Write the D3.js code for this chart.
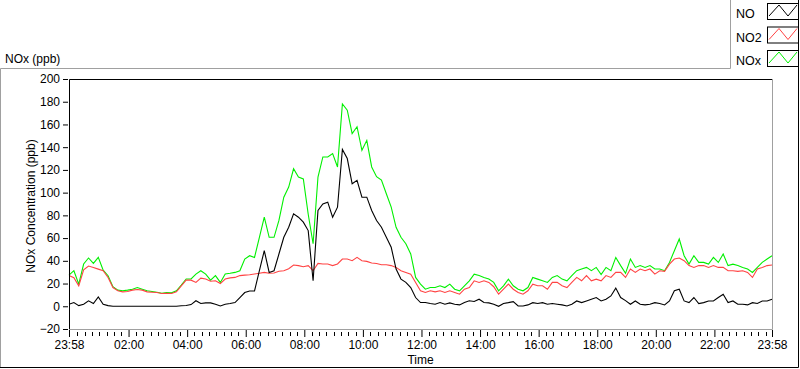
<!DOCTYPE html>
<html>
<head>
<meta charset="utf-8">
<script src="https://cdn.jsdelivr.net/npm/d3@7"></script>
<style>
  body { margin: 0; background: #fff; }
  svg { display: block; font-family: "Liberation Sans", Arial, sans-serif; }
</style>
</head>
<body>
<svg width="800" height="369"></svg>
<script>
// one reading every 10 minutes, starting 23:58
const stepMinutes = 10;

const noValues = [
  1.8, 3.3, 0.6, 1.8, 4.8, 2.4, 8.3, 1.8, 0.6, 0,
  0, 0, 0, 0, 0, 0, 0, 0, 0, 0,
  0, 0, 0, 0.5, 0.7, 1.5, 4.9, 2.5, 3, 3,
  1.8, 0.3, 1.8, 2.4, 3.3, 7.7, 12.1, 13.5, 13.5, 31.3,
  49, 29.8, 31.3, 46, 60.7, 69.5, 81.3, 78.4, 74, 66.6,
  22.4, 84.3, 90, 91.6, 78.4, 87.2, 138, 130, 107.8, 110.8,
  96, 96, 84.3, 75.5, 69.5, 60.7, 51.9, 32.8, 23.9, 21,
  16.5, 7.7, 3.3, 3.3, 2.4, 1.8, 3.3, 1.8, 3, 1.8,
  1.2, 3.3, 4.8, 4.2, 6.2, 3.3, 3, 1.8, 0, 2.4,
  3.2, 4.1, 0.3, 0.3, 1.2, 3.2, 2.4, 3.2, 1.8, 2.4,
  1.8, 1.2, 0.3, 1.8, 4.7, 3.2, 4.7, 6.2, 7.7, 4.7,
  6.2, 9.1, 16, 7.7, 5, 1.8, 4.7, 1.8, 1.2, 1.8,
  3.2, 2.4, 1.2, 4.7, 13.6, 15, 4.7, 3.2, 7.7, 2.4,
  3.2, 4.7, 4.7, 7.7, 10.6, 3.2, 4.7, 1.8, 1.8, 1.2,
  3.2, 2.4, 4.7, 4.7, 6.2
];

const no2Values = [
  27, 25.2, 18, 32, 35.4, 34.2, 32.7, 31.3, 25.4, 16.5,
  13.6, 12.7, 13, 14.2, 14.8, 14.2, 12.7, 12.4, 12.1, 11.2,
  11.5, 11.2, 12.7, 18, 23, 23, 21, 24.8, 24, 22,
  22.4, 20, 24, 25, 25.4, 27, 27.4, 27.8, 28.4, 29,
  29.8, 29, 29.3, 30.8, 31.3, 33, 36.3, 35.8, 34.8, 35.8,
  31.3, 37.7, 37.2, 37.2, 35.8, 37.2, 41.6, 41.6, 40.1, 43,
  40.1, 39.5, 38.1, 37.7, 36.6, 36.6, 35.8, 34.2, 31.3, 29.8,
  28.3, 21, 13.6, 12.1, 13.6, 12.7, 13.6, 12.1, 13.6, 12.1,
  10.6, 15, 16.5, 22.4, 21, 22.4, 21, 17.2, 10.6, 15,
  19.5, 15, 12.1, 10.6, 13.6, 19.5, 18, 18, 15, 21,
  21, 18, 16.5, 21, 25.4, 22.4, 27, 22.4, 23.9, 22.4,
  27, 25.4, 29.8, 29.8, 25.4, 32.8, 29.8, 32.8, 31.3, 32.8,
  28.3, 31.3, 30.7, 37.1, 41.6, 42.5, 40.1, 35.8, 34.2, 35.8,
  35.8, 34.2, 35.8, 34.2, 34.2, 31.3, 31.3, 30.7, 31.3, 29.8,
  25.4, 32.8, 34.2, 35.8, 36.3
];

const noxValues = [
  27.4, 31.3, 19.5, 37.2, 42.5, 37.8, 43, 31.8, 26.9, 17.2,
  14.2, 13.6, 14.2, 15, 16.5, 15, 13.6, 13, 12.4, 11.5,
  12.1, 11.8, 13.6, 18.6, 24, 24, 28.3, 31.3, 28.3, 23,
  27, 21, 28.4, 29, 29.8, 31.3, 41.6, 44.5, 43, 60.7,
  78.4, 60.7, 60.7, 75.5, 96, 104.9, 121, 113.7, 112, 81,
  55, 113.7, 131.4, 131.4, 134.4, 122.6, 178, 172.6, 152, 158,
  137.3, 146, 122.6, 114, 111, 99, 87.2, 69.5, 60.7, 55,
  46, 25.4, 19.5, 15, 16.5, 16.5, 18, 16.5, 19.5, 15,
  13.6, 18, 22.4, 28.3, 27, 25.4, 24, 21, 13.6, 18,
  23.9, 18, 15, 13.6, 16.5, 25.4, 23.9, 22.4, 21, 25.4,
  27, 23.9, 22.4, 27, 31.3, 32.8, 34.2, 31.3, 34.2, 28,
  34.2, 31.3, 43, 35.8, 29, 41.6, 34.2, 35.8, 34.2, 35.8,
  32.8, 32.8, 31.3, 38.6, 48.9, 59.2, 44.5, 37.1, 44.5, 38.6,
  38.6, 37.1, 43, 38.6, 46, 35.8, 37.1, 35.8, 34.2, 32.8,
  29.8, 34.2, 38.6, 41.6, 44.5
];

const seriesNames = ["NO", "NO2", "NOx"];
const seriesColors = ["#000000", "#ff4343", "#00f000"];
const tickLabels = ["23:58", "02:00", "04:00", "06:00", "08:00", "10:00", "12:00",
  "14:00", "16:00", "18:00", "20:00", "22:00", "23:58"];
const yTicks = [-20, 0, 20, 40, 60, 80, 100, 120, 140, 160, 180, 200];

const svg = d3.select("svg"),
    width = +svg.attr("width"),
    height = +svg.attr("height");

const plot = {left: 69, top: 79, right: 772, bottom: 329};

const start = new Date(2000, 0, 1, 23, 58);
const end = d3.timeDay.offset(start, 1);
const times = noValues.map((d, i) => d3.timeMinute.offset(start, i * stepMinutes));

const x = d3.scaleTime().domain([start, end]).range([plot.left, plot.right]);
const y = d3.scaleLinear().domain([-20, 200]).range([plot.bottom, plot.top]);

// outer frame
svg.append("path")
    .attr("d", `M0.5,${height - 1.5}V68.5H730.5V0`)
    .attr("fill", "none").attr("stroke", "#a0a0a0");
svg.append("path")
    .attr("d", `M${width - 1.5},0V${height - 1.5}H0`)
    .attr("fill", "none").attr("stroke", "#000");

svg.append("text")
    .attr("x", 5).attr("y", 63)
    .attr("font-size", 12)
    .text("NOx (ppb)");

// plot area
svg.append("rect")
    .attr("x", plot.left).attr("y", plot.top)
    .attr("width", plot.right - plot.left).attr("height", plot.bottom - plot.top)
    .attr("fill", "#fff");

const majorTicks = tickLabels.map((label, i) => {
  if (i === 0) return start;
  if (i === tickLabels.length - 1) return end;
  const [h, m] = label.split(":").map(Number);
  return new Date(2000, 0, 2, h, m);
});
const minorTicks = d3.timeMinute.every(15)
    .range(new Date(2000, 0, 2, 0, 15), end)
    .filter(d => (d.getHours() * 60 + d.getMinutes()) % 120 !== 0);

const lineGroup = svg.append("g");
const valueSets = [noValues, no2Values, noxValues];
// NOx underneath, NO on top
[2, 1, 0].forEach(k => {
  const line = d3.line()
      .x((d, i) => x(times[i]))
      .y(d => y(d));
  lineGroup.append("path")
      .datum(valueSets[k])
      .attr("fill", "none")
      .attr("stroke", seriesColors[k])
      .attr("stroke-width", 1.1)
      .attr("d", line);
});

// plot border: dark top/left, grey bottom/right
svg.append("path")
    .attr("d", `M${plot.left + 0.5},${plot.bottom}V${plot.top + 0.5}H${plot.right}`)
    .attr("fill", "none").attr("stroke", "#000");
svg.append("path")
    .attr("d", `M${plot.right + 0.5},${plot.top}V${plot.bottom + 0.5}H${plot.left}`)
    .attr("fill", "none").attr("stroke", "#a0a0a0");

const yAxis = svg.append("g")
    .attr("transform", `translate(${plot.left - 1},0)`)
    .call(d3.axisLeft(y).tickValues(yTicks).tickSize(5).tickPadding(3));
yAxis.select(".domain").remove();
yAxis.selectAll("text").attr("font-size", 12).attr("font-family", null).attr("fill", "#000");
yAxis.selectAll("line").attr("stroke", "#000");

const xAxis = svg.append("g")
    .attr("transform", `translate(0,${plot.bottom + 1})`)
    .call(d3.axisBottom(x).tickValues(majorTicks).tickFormat((d, i) => tickLabels[i])
        .tickSize(7).tickPadding(3));
xAxis.select(".domain").remove();
xAxis.selectAll("text").attr("font-size", 12).attr("font-family", null).attr("fill", "#000");
xAxis.selectAll("line").attr("stroke", "#000");

svg.append("g")
    .selectAll("line")
    .data(minorTicks)
    .enter()
    .append("line")
    .attr("x1", d => Math.round(x(d)) + 0.5).attr("x2", d => Math.round(x(d)) + 0.5)
    .attr("y1", plot.bottom + 3).attr("y2", plot.bottom + 7)
    .attr("stroke", "#000");

svg.append("text")
    .attr("x", (plot.left + plot.right) / 2).attr("y", 364)
    .attr("text-anchor", "middle")
    .attr("font-size", 12)
    .text("Time");

svg.append("text")
    .attr("transform", `translate(35,${(plot.top + plot.bottom) / 2 + 2}) rotate(-90)`)
    .attr("text-anchor", "middle")
    .attr("font-size", 12)
    .text("NOx Concentration (ppb)");

// legend
const legend = svg.append("g")
    .selectAll("g")
    .data(seriesNames)
    .enter()
    .append("g")
    .attr("transform", (d, i) => `translate(0,${i * 23.5})`);

legend.append("text")
    .attr("x", 736).attr("y", 18)
    .attr("font-size", 12.5)
    .text(d => d);

legend.append("rect")
    .attr("x", 767.5).attr("y", 3.5)
    .attr("width", 31).attr("height", 16)
    .attr("fill", "#fff").attr("stroke", "#000");

legend.append("path")
    .attr("d", "M769,16L779,5L788,16L797,5")
    .attr("fill", "none")
    .attr("stroke", (d, i) => seriesColors[i]);
</script>
</body>
</html>
